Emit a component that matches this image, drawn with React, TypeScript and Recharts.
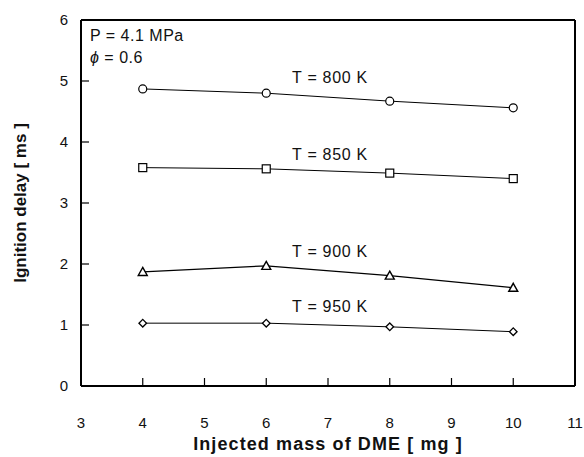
import { LineChart, Line, XAxis, YAxis, ReferenceLine, Label } from "recharts";

const mass = [4, 6, 8, 10];
const delay800 = [4.87, 4.8, 4.67, 4.56];
const delay850 = [3.58, 3.56, 3.49, 3.4];
const delay900 = [1.87, 1.97, 1.81, 1.61];
const delay950 = [1.03, 1.03, 0.97, 0.89];
const xTicks = [3, 4, 5, 6, 7, 8, 9, 10, 11];
const yTicks = [0, 1, 2, 3, 4, 5, 6];

const data = mass.map((m, i) => ({
  mass: m,
  t800: delay800[i],
  t850: delay850[i],
  t900: delay900[i],
  t950: delay950[i],
}));

const FONT = "'Liberation Sans', Arial, sans-serif";

const circleDot = (p: any) => (
  <circle key={p.index} cx={p.cx} cy={p.cy} r={4} fill="#fff" stroke="#000" strokeWidth={1.2} />
);
const squareDot = (p: any) => (
  <rect key={p.index} x={p.cx - 4} y={p.cy - 4} width={8} height={8} fill="#fff" stroke="#000" strokeWidth={1.2} />
);
const triangleDot = (p: any) => (
  <path
    key={p.index}
    d={`M${p.cx},${p.cy - 4.5}L${p.cx + 4.5},${p.cy + 3.5}L${p.cx - 4.5},${p.cy + 3.5}Z`}
    fill="#fff"
    stroke="#000"
    strokeWidth={1.4}
  />
);
const diamondDot = (p: any) => (
  <path
    key={p.index}
    d={`M${p.cx},${p.cy - 3.8}L${p.cx + 3.8},${p.cy}L${p.cx},${p.cy + 3.8}L${p.cx - 3.8},${p.cy}Z`}
    fill="#fff"
    stroke="#000"
    strokeWidth={1.3}
  />
);

const tickStyle = { fontSize: 15, fill: "#111", fontFamily: FONT };

function SeriesLabel({ viewBox, text }: any) {
  return (
    <text
      x={viewBox.x + 249}
      y={viewBox.y}
      fontSize={16}
      letterSpacing={0.7}
      fontFamily={FONT}
      fill="#111"
      textAnchor="middle"
    >
      {text}
    </text>
  );
}

export default function App() {
  return (
    <div style={{ position: "absolute", left: 0, top: 0, background: "#fff" }}>
      <LineChart width={584} height={457} data={data} margin={{ top: 20, right: 9, left: 0, bottom: 0 }}>
        <XAxis
          dataKey="mass"
          type="number"
          domain={[3, 11]}
          ticks={xTicks}
          height={71}
          tickSize={-8}
          tickMargin={39}
          tick={tickStyle}
          stroke="#000"
          axisLine={{ stroke: "#000", strokeWidth: 2 }}
          tickLine={{ stroke: "#000", strokeWidth: 1.2 }}
        >
          <Label
            value="Injected mass of DME [ mg ]"
            position="insideBottom"
            offset={7}
            style={{ fontSize: 18, fontWeight: "bold", letterSpacing: 1.1, fill: "#111", fontFamily: FONT }}
          />
        </XAxis>
        <YAxis
          type="number"
          domain={[0, 6]}
          ticks={yTicks}
          width={81}
          tickSize={-8}
          tickMargin={21}
          tick={tickStyle}
          axisLine={{ stroke: "#000", strokeWidth: 2 }}
          tickLine={{ stroke: "#000", strokeWidth: 1.2 }}
        >
          <Label
            value="Ignition delay [ ms ]"
            angle={-90}
            position="insideLeft"
            offset={20}
            style={{ fontSize: 17, fontWeight: "bold", fill: "#111", fontFamily: FONT, textAnchor: "middle" }}
          />
        </YAxis>
        <ReferenceLine y={6} stroke="#000" strokeWidth={2} />
        <ReferenceLine x={11} stroke="#000" strokeWidth={2} />
        <ReferenceLine y={4.97} stroke="none" label={<SeriesLabel text="T = 800 K" />} />
        <ReferenceLine y={3.7} stroke="none" label={<SeriesLabel text="T = 850 K" />} />
        <ReferenceLine y={2.11} stroke="none" label={<SeriesLabel text="T = 900 K" />} />
        <ReferenceLine y={1.21} stroke="none" label={<SeriesLabel text="T = 950 K" />} />
        <ReferenceLine
          y={5.74}
          stroke="none"
          label={({ viewBox }: any) => (
            <text x={viewBox.x + 9} y={viewBox.y} fontSize={16} letterSpacing={0.5} fontFamily={FONT} fill="#111" dominantBaseline="central">
              P = 4.1 MPa
            </text>
          )}
        />
        <ReferenceLine
          y={5.39}
          stroke="none"
          label={({ viewBox }: any) => (
            <text x={viewBox.x + 9} y={viewBox.y} fontSize={16} letterSpacing={0.5} fontFamily={FONT} fill="#111" dominantBaseline="central">
              <tspan fontStyle="italic">ϕ</tspan>
              <tspan> = 0.6</tspan>
            </text>
          )}
        />
        <Line dataKey="t800" stroke="#000" strokeWidth={1} dot={circleDot} isAnimationActive={false} />
        <Line dataKey="t850" stroke="#000" strokeWidth={1} dot={squareDot} isAnimationActive={false} />
        <Line dataKey="t900" stroke="#000" strokeWidth={1.3} dot={triangleDot} isAnimationActive={false} />
        <Line dataKey="t950" stroke="#000" strokeWidth={1} dot={diamondDot} isAnimationActive={false} />
      </LineChart>
    </div>
  );
}
